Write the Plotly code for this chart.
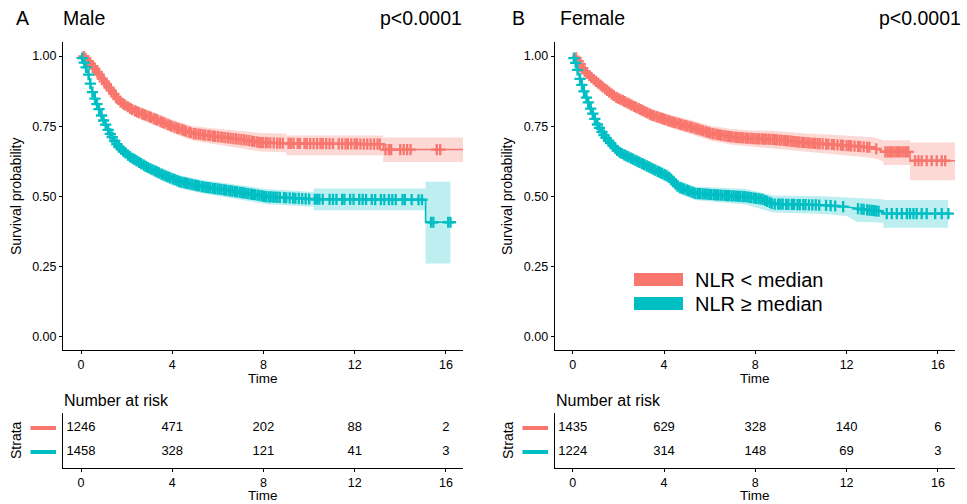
import numpy as np
import plotly.graph_objects as go

W, H = 967, 504
RED = "#F8766D"
TEAL = "#00BFC4"
RED_BAND = "rgba(248,118,109,0.28)"
TEAL_BAND = "rgba(0,191,196,0.26)"
FONT = "Liberation Sans, Arial, Helvetica, sans-serif"

# ---------------- Male: NLR < median ----------------
m_low_t = [0, 0.1, 0.54, 0.98, 1.42, 1.71, 2.29, 3.17, 4.05, 4.92, 6.09, 7.26, 7.85, 9.0, 13.25, 13.25, 16.75]
m_low_s = [1.0, 1.0, 0.962, 0.914, 0.867, 0.837, 0.807, 0.778, 0.748, 0.724, 0.712, 0.700, 0.692, 0.689, 0.686, 0.667, 0.667]
m_low_ci_t = [0, 0.54, 0.98, 1.42, 1.71, 2.29, 3.17, 4.05, 4.92, 6.09, 7.26, 7.85, 9.0, 9.0, 13.25, 13.25, 16.75]
m_low_ci_lo = [1.0, 0.950, 0.899, 0.850, 0.818, 0.786, 0.755, 0.724, 0.698, 0.684, 0.668, 0.660, 0.657, 0.647, 0.647, 0.623, 0.623]
m_low_ci_hi = [1.0, 0.974, 0.929, 0.884, 0.856, 0.828, 0.801, 0.772, 0.750, 0.740, 0.731, 0.726, 0.724, 0.717, 0.717, 0.710, 0.710]
m_low_cens = [0.12, 0.2, 0.31, 0.4, 0.52, 0.6, 0.71, 0.8, 0.93, 1.02, 1.11, 1.23, 1.32, 1.44, 1.53, 1.62,
              1.74, 1.85, 1.93, 2.05, 2.16, 2.24, 2.37, 2.46, 2.55, 2.68, 2.77, 2.86, 2.98, 3.07, 3.19,
              3.28, 3.36, 3.49, 3.58, 3.67, 3.8, 3.89, 3.97, 4.1, 4.21, 4.3, 4.42, 4.51, 4.6, 4.73, 4.82,
              4.94, 5.03, 5.15, 5.24, 5.36, 5.45, 5.58, 5.67, 5.79, 5.88, 6.0, 6.12, 6.21, 6.33, 6.45,
              6.56, 6.68, 6.8, 6.91, 7.03, 7.15, 7.26, 7.38, 7.5, 7.58, 7.7, 7.79, 7.88, 7.97, 8.1, 8.18,
              8.3, 8.45, 8.6, 8.72, 8.85, 9.1, 9.2, 9.32, 9.5, 9.6, 9.8, 9.9, 10.05, 10.2, 10.35, 10.5,
              10.6, 10.75, 10.9, 11.05, 11.3, 11.45, 11.6, 11.7, 11.85, 12.0, 12.1, 12.25, 12.4, 12.55,
              12.7, 12.85, 13.0, 13.1, 13.35, 13.5, 13.6, 14.0, 14.15, 14.3, 14.45, 15.6, 15.75]

# ---------------- Male: NLR >= median ----------------
m_high_t = [0, 0.1, 0.32, 0.47, 0.69, 0.98, 1.27, 1.64, 2.15, 2.88, 3.61, 4.34, 5.36, 6.39, 7.26, 8.14, 10.2, 15.11, 15.11, 16.3]
m_high_s = [1.0, 0.985, 0.938, 0.878, 0.831, 0.772, 0.724, 0.677, 0.641, 0.605, 0.576, 0.552, 0.534, 0.522, 0.511, 0.499, 0.490, 0.488, 0.408, 0.408]
m_high_ci_t = [0, 0.32, 0.47, 0.69, 0.98, 1.27, 1.64, 2.15, 2.88, 3.61, 4.34, 5.36, 6.39, 7.26, 8.14, 10.2, 10.2, 15.11, 15.11, 16.2]
m_high_ci_lo = [1.0, 0.925, 0.864, 0.815, 0.755, 0.706, 0.658, 0.621, 0.584, 0.554, 0.529, 0.510, 0.497, 0.485, 0.472, 0.463, 0.451, 0.451, 0.261, 0.261]
m_high_ci_hi = [1.0, 0.951, 0.892, 0.847, 0.789, 0.742, 0.696, 0.661, 0.626, 0.598, 0.575, 0.558, 0.547, 0.537, 0.526, 0.516, 0.528, 0.528, 0.552, 0.552]
m_high_cens = [0.05, 0.14, 0.22, 0.33, 0.41, 0.5, 0.61, 0.7, 0.79, 0.9, 0.99, 1.08, 1.19, 1.28, 1.37, 1.48,
               1.57, 1.66, 1.77, 1.86, 1.95, 2.06, 2.15, 2.26, 2.35, 2.44, 2.55, 2.64, 2.75, 2.84, 2.93,
               3.04, 3.13, 3.24, 3.33, 3.42, 3.53, 3.62, 3.73, 3.82, 3.91, 4.02, 4.11, 4.22, 4.31, 4.4,
               4.51, 4.6, 4.69, 4.8, 4.89, 5.0, 5.09, 5.18, 5.29, 5.38, 5.49, 5.58, 5.67, 5.78, 5.87,
               5.98, 6.07, 6.16, 6.27, 6.36, 6.47, 6.56, 6.65, 6.76, 6.85, 6.96, 7.05, 7.14, 7.25, 7.34,
               7.45, 7.54, 7.63, 7.74, 7.83, 7.94, 8.03, 8.12, 8.23, 8.32, 8.43, 8.52, 8.61, 8.72, 8.9,
               9.0, 9.15, 9.3, 9.4, 9.55, 9.7, 9.85, 10.0, 10.25, 10.35, 10.45, 10.6, 10.9, 11.05, 11.2,
               11.45, 11.55, 11.8, 11.95, 12.2, 12.35, 12.5, 12.75, 12.9, 13.15, 13.3, 13.5, 13.65,
               13.8, 14.1, 14.2, 14.5, 14.8, 14.95, 15.35, 15.45, 16.1, 16.2]

# ---------------- Female: NLR < median ----------------
f_low_t = [0, 0.1, 0.54, 1.13, 1.86, 2.59, 3.46, 4.34, 5.22, 6.10, 6.97, 7.85, 8.79, 10.25, 11.71, 13.17, 13.61, 14.78, 14.78, 16.75]
f_low_s = [1.0, 1.0, 0.944, 0.902, 0.855, 0.825, 0.790, 0.766, 0.746, 0.724, 0.712, 0.706, 0.703, 0.691, 0.683, 0.674, 0.659, 0.659, 0.627, 0.627]
f_low_ci_t = [0, 0.54, 1.13, 1.86, 2.59, 3.46, 4.34, 5.22, 6.10, 6.97, 7.85, 8.79, 10.25, 11.71, 13.17, 13.61, 13.61, 14.78, 14.78, 16.75]
f_low_ci_lo = [1.0, 0.933, 0.888, 0.838, 0.806, 0.769, 0.743, 0.721, 0.697, 0.684, 0.677, 0.672, 0.658, 0.648, 0.637, 0.625, 0.612, 0.612, 0.558, 0.558]
f_low_ci_hi = [1.0, 0.955, 0.916, 0.872, 0.844, 0.811, 0.789, 0.771, 0.751, 0.740, 0.735, 0.734, 0.724, 0.718, 0.711, 0.700, 0.700, 0.700, 0.692, 0.692]
f_low_cens = [0.15, 0.24, 0.33, 0.44, 0.53, 0.62, 0.73, 0.82, 0.93, 1.02, 1.11, 1.22, 1.31, 1.42, 1.51,
              1.6, 1.71, 1.8, 1.91, 2.0, 2.09, 2.2, 2.29, 2.4, 2.49, 2.58, 2.69, 2.78, 2.89, 2.98, 3.07,
              3.18, 3.27, 3.38, 3.47, 3.56, 3.67, 3.76, 3.87, 3.96, 4.05, 4.16, 4.25, 4.36, 4.45, 4.54,
              4.65, 4.74, 4.85, 4.94, 5.03, 5.14, 5.23, 5.34, 5.43, 5.52, 5.63, 5.72, 5.83, 5.92, 6.01,
              6.12, 6.21, 6.32, 6.41, 6.5, 6.61, 6.7, 6.81, 6.9, 6.99, 7.1, 7.19, 7.3, 7.39, 7.48, 7.59,
              7.68, 7.79, 7.88, 7.97, 8.08, 8.17, 8.28, 8.37, 8.46, 8.57, 8.66, 8.77, 8.86, 8.95, 9.06,
              9.15, 9.26, 9.35, 9.44, 9.55, 9.64, 9.75, 9.84, 9.93, 10.04, 10.13, 10.24, 10.33, 10.42,
              10.53, 10.62, 10.73, 10.82, 10.95, 11.1, 11.2, 11.35, 11.45, 11.6, 11.75, 11.85, 12.0,
              12.1, 12.2, 12.35, 12.5, 12.6, 12.75, 12.9, 13.0, 13.3, 13.7, 13.8, 13.9, 14.0, 14.1,
              14.2, 14.3, 14.4, 14.5, 14.6, 14.7, 15.0, 15.15, 15.29, 15.51, 15.73, 15.95, 16.17, 16.32]

# ---------------- Female: NLR >= median ----------------
f_high_t = [0, 0.1, 0.25, 0.47, 0.76, 1.05, 1.42, 2.0, 2.73, 3.46, 4.2, 4.63, 5.36, 6.39, 7.56, 8.3, 8.79, 10.98, 12.0, 12.44, 13.61, 13.61, 16.6]
f_high_s = [1.0, 0.985, 0.938, 0.878, 0.819, 0.760, 0.712, 0.659, 0.629, 0.600, 0.570, 0.534, 0.511, 0.505, 0.499, 0.490, 0.473, 0.469, 0.463, 0.457, 0.445, 0.439, 0.439]
f_high_ci_t = [0, 0.25, 0.47, 0.76, 1.05, 1.42, 2.0, 2.73, 3.46, 4.2, 4.63, 5.36, 6.39, 7.56, 8.79, 10.98, 12.0, 12.44, 13.61, 13.61, 16.45]
f_high_ci_lo = [1.0, 0.925, 0.863, 0.802, 0.742, 0.693, 0.639, 0.608, 0.578, 0.546, 0.510, 0.487, 0.479, 0.471, 0.443, 0.437, 0.430, 0.410, 0.406, 0.388, 0.388]
f_high_ci_hi = [1.0, 0.951, 0.893, 0.836, 0.778, 0.731, 0.679, 0.650, 0.622, 0.594, 0.558, 0.535, 0.531, 0.527, 0.503, 0.501, 0.496, 0.494, 0.490, 0.487, 0.487]
f_high_cens = [0.05, 0.13, 0.21, 0.32, 0.4, 0.49, 0.6, 0.68, 0.79, 0.88, 0.97, 1.08, 1.17, 1.28, 1.37,
               1.46, 1.57, 1.66, 1.77, 1.86, 1.95, 2.06, 2.15, 2.26, 2.35, 2.44, 2.55, 2.64, 2.75, 2.84,
               2.93, 3.04, 3.13, 3.24, 3.33, 3.42, 3.53, 3.62, 3.73, 3.82, 3.91, 4.02, 4.11, 4.22, 4.31,
               4.4, 4.51, 4.6, 4.71, 4.8, 4.89, 5.0, 5.09, 5.2, 5.29, 5.38, 5.49, 5.58, 5.69, 5.78, 5.87,
               5.98, 6.07, 6.18, 6.27, 6.36, 6.47, 6.56, 6.67, 6.76, 6.85, 6.96, 7.05, 7.16, 7.25, 7.34,
               7.45, 7.54, 7.65, 7.74, 7.83, 7.94, 8.03, 8.14, 8.23, 8.32, 8.43, 8.52, 8.63, 8.72, 8.85,
               9.0, 9.1, 9.2, 9.35, 9.45, 9.6, 9.7, 9.85, 9.95, 10.1, 10.2, 10.35, 10.5, 10.65, 10.8,
               11.1, 11.3, 11.5, 11.85, 12.5, 12.65, 12.75, 12.9, 13.0, 13.1, 13.2, 13.3, 13.4, 13.76,
               13.98, 14.2, 14.42, 14.64, 14.78, 14.93, 15.07, 15.29, 15.51, 15.88, 16.17, 16.46]

# ---------------- Risk tables ----------------
risk_times = [0, 4, 8, 12, 16]
m_low_risk = [1246, 471, 202, 88, 2]
m_high_risk = [1458, 328, 121, 41, 3]
f_low_risk = [1435, 629, 328, 140, 6]
f_high_risk = [1224, 314, 148, 69, 3]

x_ticks = [0, 4, 8, 12, 16]
y_ticks = [0, 0.25, 0.5, 0.75, 1.0]
y_tick_text = ["0.00", "0.25", "0.50", "0.75", "1.00"]
legend_labels = ["NLR < median", "NLR \u2265 median"]


def X(px):
    return px / W


def Y(py):
    return 1 - py / H


fig = go.Figure()


def add_group(xa, ya, t, s, ci_t, ci_lo, ci_hi, cens, color, band):
    # confidence band as a closed polygon
    fig.add_trace(go.Scatter(
        x=list(ci_t) + list(ci_t)[::-1], y=list(ci_lo) + list(ci_hi)[::-1],
        fill="toself", fillcolor=band, line=dict(width=0), mode="lines",
        hoverinfo="skip", showlegend=False, xaxis=xa, yaxis=ya))
    fig.add_trace(go.Scatter(
        x=t, y=s, mode="lines", line=dict(color=color, width=1.6),
        showlegend=False, xaxis=xa, yaxis=ya))
    # censoring marks sit on the survival curve
    cy = np.interp(cens, t, s)
    fig.add_trace(go.Scatter(
        x=cens, y=cy, mode="markers",
        marker=dict(symbol="cross-thin", size=8, line=dict(color=color, width=2.3)),
        showlegend=False, xaxis=xa, yaxis=ya))


add_group("x", "y", m_low_t, m_low_s, m_low_ci_t, m_low_ci_lo, m_low_ci_hi, m_low_cens, RED, RED_BAND)
add_group("x", "y", m_high_t, m_high_s, m_high_ci_t, m_high_ci_lo, m_high_ci_hi, m_high_cens, TEAL, TEAL_BAND)
add_group("x2", "y2", f_low_t, f_low_s, f_low_ci_t, f_low_ci_lo, f_low_ci_hi, f_low_cens, RED, RED_BAND)
add_group("x2", "y2", f_high_t, f_high_s, f_high_ci_t, f_high_ci_lo, f_high_ci_hi, f_high_cens, TEAL, TEAL_BAND)

# numbers at risk
for xa, ya, low, high in [("x3", "y3", m_low_risk, m_high_risk), ("x4", "y4", f_low_risk, f_high_risk)]:
    fig.add_trace(go.Scatter(x=risk_times, y=[2] * 5, mode="text", text=[str(v) for v in low],
                             textfont=dict(size=13, color="black", family=FONT),
                             showlegend=False, xaxis=xa, yaxis=ya))
    fig.add_trace(go.Scatter(x=risk_times, y=[1] * 5, mode="text", text=[str(v) for v in high],
                             textfont=dict(size=13, color="black", family=FONT),
                             showlegend=False, xaxis=xa, yaxis=ya))

axis_common = dict(showline=True, linecolor="black", linewidth=1, ticks="outside", ticklen=3,
                   tickcolor="black", tickwidth=1, showgrid=False, zeroline=False,
                   tickfont=dict(size=12.5, color="black", family=FONT))
xr = [-0.79, 16.75]
yr = [-0.047, 1.05]
km_y = [Y(350), Y(42)]
rt_y = [Y(467.7), Y(412.7)]
left_x = [X(63), X(463)]
right_x = [X(554.7), X(955)]

fig.update_layout(
    width=W, height=H, margin=dict(l=0, r=0, t=0, b=0),
    paper_bgcolor="white", plot_bgcolor="white", showlegend=False,
    font=dict(family=FONT, color="black"),
    xaxis=dict(domain=left_x, range=xr, tickvals=x_ticks, anchor="y", **axis_common),
    yaxis=dict(domain=km_y, range=yr, tickvals=y_ticks, ticktext=y_tick_text, anchor="x", **axis_common),
    xaxis2=dict(domain=right_x, range=xr, tickvals=x_ticks, anchor="y2", **axis_common),
    yaxis2=dict(domain=km_y, range=yr, tickvals=y_ticks, ticktext=y_tick_text, anchor="x2", **axis_common),
    xaxis3=dict(domain=left_x, range=xr, tickvals=x_ticks, anchor="y3", **axis_common),
    yaxis3=dict(domain=rt_y, range=[0.35, 2.64], anchor="x3", showline=True, linecolor="black",
                linewidth=1, showticklabels=False, ticks="", showgrid=False, zeroline=False),
    xaxis4=dict(domain=right_x, range=xr, tickvals=x_ticks, anchor="y4", **axis_common),
    yaxis4=dict(domain=rt_y, range=[0.35, 2.64], anchor="x4", showline=True, linecolor="black",
                linewidth=1, showticklabels=False, ticks="", showgrid=False, zeroline=False),
)

ann = []


def text(x, y, s, size, xanchor="left", angle=0):
    ann.append(dict(x=x, y=y, xref="paper", yref="paper", text=s, showarrow=False,
                    xanchor=xanchor, yanchor="middle", textangle=angle,
                    font=dict(size=size, color="black", family=FONT)))


# panel headers
text(X(14), Y(18.5), "A", 19.5)
text(X(61), Y(18.5), "Male", 19.5)
text(X(464), Y(18.5), "p<0.0001", 19.5, xanchor="right")
text(X(510), Y(18.5), "B", 19.5)
text(X(557.5), Y(18.5), "Female", 19.5)
text(X(963), Y(18.5), "p<0.0001", 19.5, xanchor="right")

# axis titles
text(X(16), Y(196), "Survival probability", 14, xanchor="center", angle=-90)
text(X(507), Y(196), "Survival probability", 14, xanchor="center", angle=-90)
text(X(263), Y(378), "Time", 13.5, xanchor="center")
text(X(755), Y(378), "Time", 13.5, xanchor="center")
text(X(263), Y(495.5), "Time", 13.5, xanchor="center")
text(X(755), Y(495.5), "Time", 13.5, xanchor="center")
text(X(16), Y(440), "Strata", 14, xanchor="center", angle=-90)
text(X(508), Y(440), "Strata", 14, xanchor="center", angle=-90)

# risk table titles
text(X(62), Y(400), "Number at risk", 16)
text(X(554), Y(400), "Number at risk", 16)

# legend labels
text(X(693), Y(279.5), legend_labels[0], 20)
text(X(693), Y(303.5), legend_labels[1], 20)

fig.update_layout(annotations=ann)

shapes = []
# legend keys
for (y0, y1), c in [((273, 286), RED), ((297, 310), TEAL)]:
    shapes.append(dict(type="rect", xref="paper", yref="paper", x0=X(634), x1=X(683),
                       y0=Y(y1), y1=Y(y0), fillcolor=c, line=dict(width=0)))
# strata colour keys beside the risk tables
for xa0, xa1, yref in [(30.5, 56, "y3"), (522.5, 548, "y4")]:
    for yv, c in [(2, RED), (1, TEAL)]:
        shapes.append(dict(type="line", xref="paper", yref=yref, x0=X(xa0), x1=X(xa1),
                           y0=yv, y1=yv, line=dict(color=c, width=4)))
fig.update_layout(shapes=shapes)

fig.write_html("out.html")
